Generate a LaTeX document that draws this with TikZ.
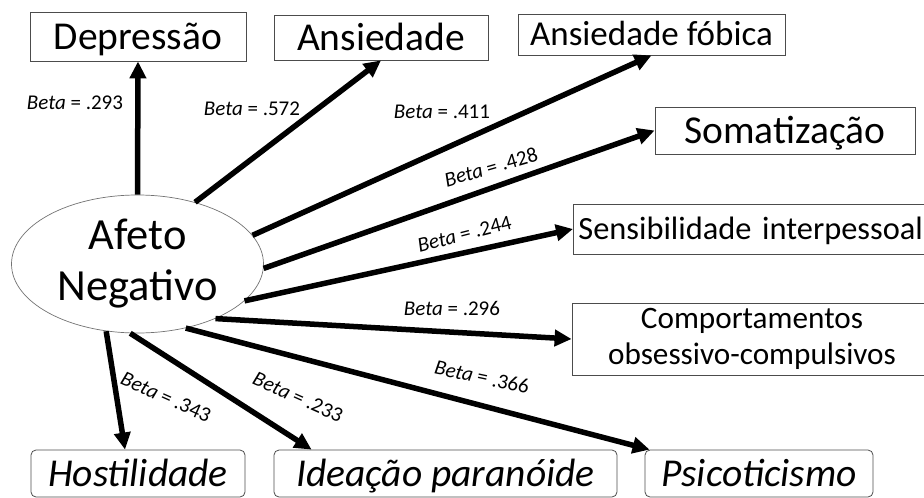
\documentclass[tikz,border=0pt]{standalone}
\usepackage{fontspec}
\setmainfont{Carlito}
\usetikzlibrary{arrows.meta,shapes.geometric}

\begin{document}
\begin{tikzpicture}[x=1pt,y=-1pt,
  caixa/.style={draw=black!70,line width=0.8pt,inner sep=0pt,text height=33.4pt,text depth=8pt,
    font=\fontsize{39.5}{45}\selectfont},
  caixar/.style={caixa,rounded corners=5pt,font=\fontsize{39.5}{45}\selectfont\itshape},
  seta/.style={line width=5.5pt,-{Triangle[length=17pt,width=16pt]}},
  peso/.style={font=\fontsize{21}{24}\selectfont,inner sep=0pt}]
   \clip (0,0) rectangle (924,498);
   % fator central
   \node[draw=black!55,line width=0.7pt,ellipse,minimum width=252pt,minimum height=138pt,
     inner sep=0pt,align=center,font=\fontsize{44.5}{51}\selectfont] (afeto) at (137.5,264) {Afeto\\Negativo};
   % escalas
   \node[caixa,minimum width=216pt,minimum height=49pt] (dep) at (138,36.5) {Depressão};
   \node[caixa,minimum width=214pt,minimum height=45pt] (ans) at (381,37.5) {Ansiedade};
   \node[caixa,minimum width=267pt,minimum height=41pt,text height=29.5pt,text depth=7pt,
     font=\fontsize{35}{40}\selectfont] (fob) at (651.5,34.5) {Ansiedade fóbica};
   \node[caixa,minimum width=260pt,minimum height=47pt] (som) at (785,130.5) {Somatização};
   \node[caixa,anchor=west,text width=350pt,inner xsep=5pt,minimum height=50pt,align=left,
     text height=27.9pt,text depth=7pt,font=\fontsize{32.4}{38}\selectfont] (sens) at (573,229) {Sensibilidade interpessoal};
   \node[caixa,minimum width=360pt,minimum height=72pt,align=center,text height=,text depth=,
     font=\fontsize{31.2}{36}\selectfont] (comp) at (752,339) {Comportamentos\\obsessivo-compulsivos};
   \node[caixar,minimum width=214pt,minimum height=47pt] (host) at (138,473.5) {Hostilidade};
   \node[caixar,minimum width=343pt,minimum height=47pt] (idea) at (445.5,473.5) {Ideação paranóide};
   \node[caixar,minimum width=228pt,minimum height=47pt] (psi) at (759,473.5) {Psicoticismo};
   % setas
   \draw[seta] (afeto.90) -- (dep.south);
   \draw[seta] (afeto.47) -- (ans.south);
   \draw[seta] (afeto.14) -- (fob.south);
   \draw[seta] (afeto.-2.7) -- (som.west);
   \draw[seta] (afeto.-19) -- (sens.west);
   \draw[seta] (afeto.-35) -- (comp.west);
   \draw[seta] (afeto.-53) -- ([xshift=5pt]psi.north west);
   \draw[seta] (afeto.-96) -- ([xshift=38pt]idea.north west);
   \draw[seta] (afeto.-115) -- ([xshift=-13pt]host.north);
   % pesos
   \node[peso] (b1) at (75,103) {\textit{Beta} = .293};
   \node[peso] (b2) at (252,109) {\textit{Beta} = .572};
   \node[peso] (b3) at (442,112) {\textit{Beta} = .411};
   \node[peso,rotate=16] (b4) at (491,167) {\textit{Beta} = .428};
   \node[peso,rotate=14.5] (b5) at (464.5,234) {\textit{Beta} = .244};
   \node[peso] (b6) at (452,308) {\textit{Beta} = .296};
   \node[peso,rotate=-12] (b7) at (482,377) {\textit{Beta} = .366};
   \node[peso,rotate=-24] (b8) at (166,397) {\textit{Beta} = .343};
   \node[peso,rotate=-24] (b9) at (298,397) {\textit{Beta} = .233};
\end{tikzpicture}
\end{document}
